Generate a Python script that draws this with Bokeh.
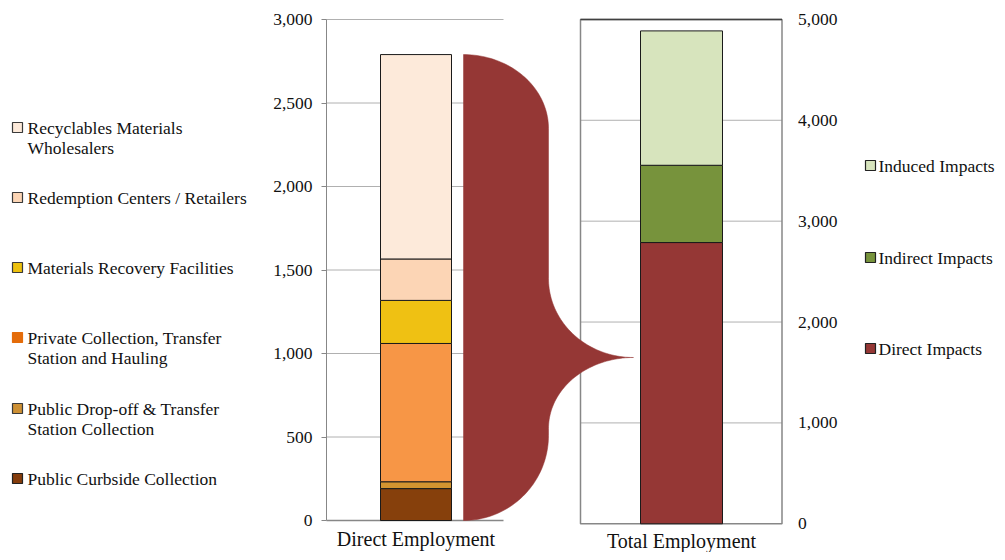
import numpy as np
from bokeh.plotting import figure
from bokeh.models import Range1d, LinearAxis, FixedTicker, NumeralTickFormatter, ColumnDataSource
from bokeh.core.properties import value
from bokeh.embed import file_html
from bokeh.resources import INLINE

# ---------------- data ----------------
direct_categories = [
    "Public Curbside Collection",
    "Public Drop-off & Transfer\nStation Collection",
    "Private Collection, Transfer\nStation and Hauling",
    "Materials Recovery Facilities",
    "Redemption Centers / Retailers",
    "Recyclables Materials\nWholesalers",
]
direct_values = [191, 41, 828, 258, 248, 1224]

total_categories = ["Direct Impacts", "Indirect Impacts", "Induced Impacts"]
total_values = [2788, 766, 1332]

bar_labels = ["Direct Employment", "Total Employment"]
left_ticks = [0, 500, 1000, 1500, 2000, 2500, 3000]
right_ticks = [0, 1000, 2000, 3000, 4000, 5000]

# ---------------- styles ----------------
FONT = "Liberation Serif"
direct_colors = ["#86400C", "#D39430", "#F79646", "#EFC113", "#FCD5B5", "#FDEADA"]
direct_swatch = ["#843C0C", "#CD9034", "#E46C0A", "#EDC10E", "#FCD5B5", "#FDEADA"]
direct_swatch_line = ["#222222", "#3a3a3a", "#E46C0A", "#3a3a3a", "#3a3a3a", "#3a3a3a"]
total_colors = ["#953735", "#77933C", "#D7E4BD"]
BRACE = "#953735"
GRID = "#B0B0B0"
AXIS = "#878787"

# ---------------- layout (picture pixel units) ----------------
W, H = 997, 552
OFF = 0
L_ZERO, L_K = 520.0, 501.0 / 3000.0      # left scale: px of 0, px per unit
R_ZERO, R_K = 523.3, 504.4 / 5000.0      # right scale
bar_x = [415.5, 681.0]
bar_w = [71, 82]
left_panel = (326, 503)
right_panel = (580, 781.5)

p = figure(width=W, height=H, output_backend="svg", toolbar_location=None,
           x_range=Range1d(OFF, OFF + W),
           y_range=Range1d((L_ZERO - (OFF + H)) / L_K, (L_ZERO - OFF) / L_K),
           x_axis_type=None, y_axis_type=None, min_border=0,
           outline_line_color=None)
p.extra_y_ranges = {
    "right": Range1d((R_ZERO - (OFF + H)) / R_K, (R_ZERO - OFF) / R_K),
    "px": Range1d(OFF + H, OFF),
}
p.background_fill_color = "white"
p.border_fill_color = "white"

# gridlines
p.segment(x0=left_panel[0], x1=left_panel[1], y0=left_ticks[1:], y1=left_ticks[1:],
          line_color=GRID, line_width=1)
p.segment(x0=left_panel[0], x1=left_panel[1], y0=0, y1=0, line_color=AXIS, line_width=1.5)
p.segment(x0=right_panel[0], x1=right_panel[1], y0=right_ticks[1:-1], y1=right_ticks[1:-1],
          line_color=GRID, line_width=1, y_range_name="right")
p.quad(left=right_panel[0], right=right_panel[1], bottom=0, top=right_ticks[-1],
       fill_color=None, line_color=AXIS, line_width=1.5, y_range_name="right")
p.segment(x0=right_panel[0], x1=right_panel[1], y0=right_ticks[-1], y1=right_ticks[-1],
          line_color="#404040", line_width=1.5, y_range_name="right")

# bars
dv = np.array(direct_values, dtype=float)
src_l = ColumnDataSource(dict(cat=direct_categories, bottom=np.cumsum(dv) - dv,
                              top=np.cumsum(dv), color=direct_colors))
p.vbar(x=bar_x[0], width=bar_w[0], bottom="bottom", top="top", fill_color="color",
       line_color="#1a1a1a", line_width=1, source=src_l)
tv = np.array(total_values, dtype=float)
src_r = ColumnDataSource(dict(cat=total_categories, bottom=np.cumsum(tv) - tv,
                              top=np.cumsum(tv), color=total_colors))
p.vbar(x=bar_x[1], width=bar_w[1], bottom="bottom", top="top", fill_color="color",
       line_color="#1a1a1a", line_width=1, source=src_r, y_range_name="right")

# brace (curly bracket) from the direct total to the total bar
top = dv.sum()
def lv(px):
    return (L_ZERO - px) / L_K
x0, x1, x2 = 463.0, 548.0, 633.0
ya, yb, ytip, yc, yd = lv(128), lv(278), lv(357), lv(428), lv(435)
t1 = np.linspace(np.pi / 2, 0, 50)
t2 = np.linspace(np.pi, 1.5 * np.pi, 50)
t3 = np.linspace(0.5 * np.pi, np.pi, 50)
t4 = np.linspace(0, -np.pi / 2, 50)
bx = np.concatenate([x0 + (x1 - x0) * np.cos(t1), x2 + (x2 - x1) * np.cos(t2),
                     x2 + (x2 - x1) * np.cos(t3), x0 + (x1 - x0) * np.cos(t4)])
by = np.concatenate([ya + (top - ya) * np.sin(t1), yb + (yb - ytip) * np.sin(t2),
                     yc + (ytip - yc) * np.sin(t3), yd + yd * np.sin(t4)])
p.patch(bx, by, fill_color=BRACE, line_color=BRACE, line_width=0.5)

# axes
yl = LinearAxis(fixed_location=left_panel[0], bounds=(0, 3000),
                ticker=FixedTicker(ticks=left_ticks),
                formatter=NumeralTickFormatter(format="0,0"))
yl.axis_line_color = AXIS
yl.major_tick_line_color = AXIS
yl.major_tick_out = 5
yl.major_tick_in = 0
yl.minor_tick_line_color = None
yl.major_label_standoff = 9
yl.major_label_text_font = FONT
yl.major_label_text_font_size = "17.5px"
yl.major_label_text_color = "#111111"
p.add_layout(yl, "left")

yr = LinearAxis(y_range_name="right", fixed_location=right_panel[1], bounds=(0, 5000),
                ticker=FixedTicker(ticks=right_ticks),
                formatter=NumeralTickFormatter(format="0,0"))
yr.axis_line_color = None
yr.major_tick_line_color = None
yr.major_tick_out = 0
yr.major_tick_in = 0
yr.minor_tick_line_color = None
yr.major_label_standoff = 16
yr.major_label_text_font = FONT
yr.major_label_text_font_size = "17.5px"
yr.major_label_text_color = "#111111"
p.add_layout(yr, "right")

# category labels under the bars
p.text(x=bar_x, y=[538, 540], text=bar_labels, y_range_name="px",
       text_font=value(FONT), text_font_size="20px", text_align="center",
       text_baseline="middle", text_color="#111111")

# legends (drawn as text + swatches)
def draw_legend(names, ys, sx, tx, fills, lines):
    lx, ly, lt = [], [], []
    for name, y in zip(names, ys):
        for i, part in enumerate(name.split("\n")):
            lx.append(tx); ly.append(y + 20 * i); lt.append(part)
    p.scatter(x=[sx] * len(ys), y=ys, marker="square", size=10, fill_color=fills,
              line_color=lines, line_width=1.2, y_range_name="px")
    p.text(x=lx, y=ly, text=lt, y_range_name="px", text_font=value(FONT),
           text_font_size="17.5px", text_baseline="middle", text_align="left",
           text_color="#111111")

draw_legend(direct_categories, [478, 408, 337, 267, 197, 127], 17, 27,
            direct_swatch, direct_swatch_line)
draw_legend(total_categories, [348, 257, 165], 870, 878,
            ["#953735", "#77933C", "#D7E4BD"], ["#222222"] * 3)

open("out.html", "w").write(file_html(p, INLINE))
